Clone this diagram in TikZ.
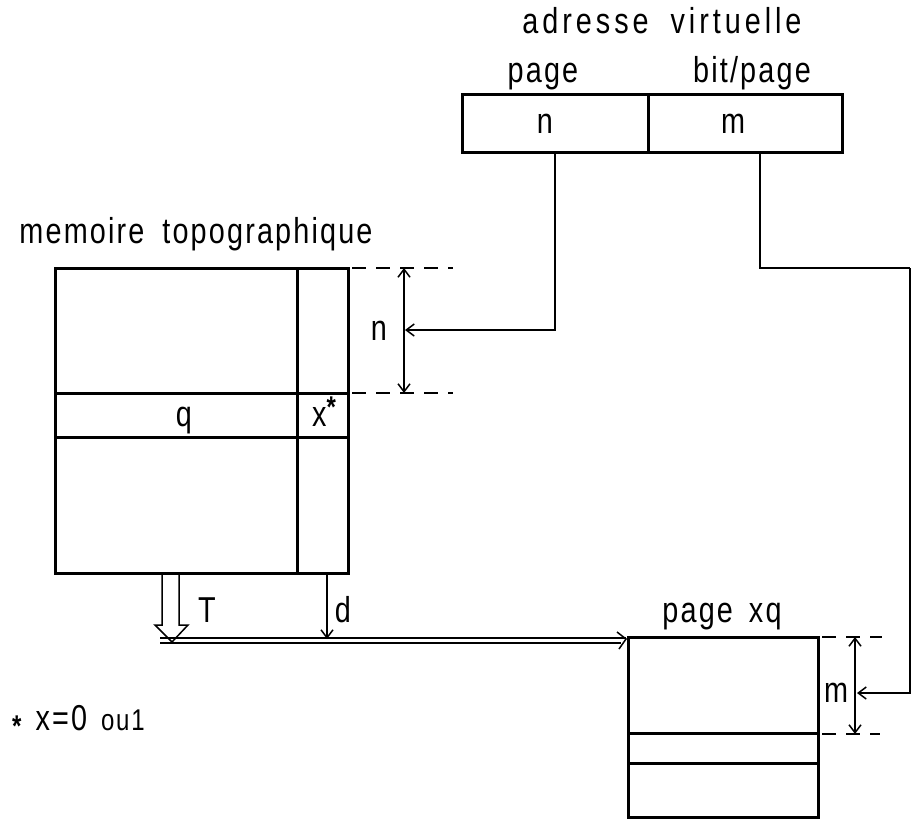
\documentclass[tikz,border=0pt]{standalone}
\usepackage{fontspec}
\setsansfont{Liberation Sans}[FakeStretch=0.8, LetterSpace=6]
\usetikzlibrary{arrows.meta}
\begin{document}
\begin{tikzpicture}[x=1pt,y=-1pt,
  thick box/.style={line width=3pt},
  lbl/.style={font=\sffamily\fontsize{36}{38}\selectfont, inner sep=0pt, anchor=base},
  dsh/.style={line width=1.5pt, dash pattern=on 14pt off 10pt},
  arr/.style={line width=1.5pt,-{Straight Barb[length=8pt,width=12pt]}},
  darr/.style={line width=1.5pt,{Straight Barb[length=8pt,width=12pt]}-{Straight Barb[length=8pt,width=12pt]}}]
\useasboundingbox (0,0) rectangle (916,830);
% address box
\draw[thick box] (462,94) rectangle (842,152);
\draw[thick box] (648,94) -- (648,152);
\node[lbl] (an) at (545,133) {n};
\node[lbl] (am) at (733,133) {m};
\node[lbl] (adr) at (662,33) {\addfontfeature{LetterSpace=11}adresse\hspace{22pt}virtuelle};
\node[lbl] (pg) at (543,82) {page};
\node[lbl] (bp) at (752,82) {bit/page};
% memoire topographique
\node[lbl] (mt) at (196,243) {memoire\hspace{18pt}topographique};
\draw[thick box] (55,268) rectangle (348,573);
\draw[thick box] (297,268) -- (297,573);
\draw[thick box] (55,393) -- (348,393);
\draw[thick box] (55,437) -- (348,437);
\node[lbl] (q) at (184,426) {q};
\node[lbl] (x) at (324,426) {x\raisebox{9pt}{\fontsize{30}{30}\selectfont\bfseries *}};
\draw[dsh] (352,268) -- (453,268);
\draw[dsh] (352,393) -- (453,393);
\coordinate (n1) at (404,268);
\coordinate (n2) at (404,393);
\draw[darr] (n1) -- (n2);
\node[lbl] (nn) at (379,340) {n};
% connector from n to mem
\coordinate (nb) at (555,152);
\coordinate (ne) at (405,330);
\draw[arr] (nb) |- (ne);
% T hollow arrow
\draw[line width=1.5pt, line join=miter] (162,573) -- (162,625) -- (155,625) -- (172,642) -- (188,625) -- (179,625) -- (179,573);
\node[lbl] (T) at (207,622) {T};
\coordinate (d1) at (327,573);
\coordinate (d2) at (327,639);
\draw[arr] (d1) -- (d2);
\node[lbl] (d) at (343,622) {d};
% double horizontal line
\draw[line width=1.2pt] (160,638) -- (626,638);
\draw[line width=1.2pt] (160,643) -- (621,643);
\draw[line width=1.5pt] (617,632) -- (626,639) -- (619,649);
% page xq
\node[lbl] (px) at (722,622) {page\hspace{16pt}xq};
\draw[thick box] (628,637) rectangle (818,817);
\draw[thick box] (628,733) -- (818,733);
\draw[thick box] (628,763) -- (818,763);
\draw[dsh] (822,637) -- (882,637);
\draw[dsh] (822,734) -- (880,734);
\coordinate (m1) at (855,637);
\coordinate (m2) at (855,734);
\draw[darr] (m1) -- (m2);
\node[lbl] (mm) at (836,702) {m};
% connector from m
\coordinate (mb) at (760,152);
\coordinate (mr) at (910,268);
\coordinate (me) at (857,693);
\draw[line width=1.5pt] (mb) |- (mr);
\draw[arr] (mr) |- (me);
% footnote
\node[lbl, anchor=base west] (fn) at (12,730) {\raisebox{-6pt}{\fontsize{30}{30}\selectfont\bfseries *}\hspace{14pt}x=0\hspace{14pt}{\fontsize{30}{30}\selectfont ou1}};
\end{tikzpicture}
\end{document}
